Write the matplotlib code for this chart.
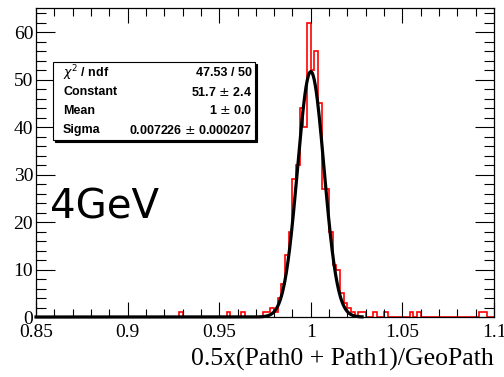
import numpy as np
import matplotlib.pyplot as plt
from matplotlib.patches import Rectangle

# histogram: 125 bins of 0.002 from 0.85 to 1.1, only non-empty bins listed
x_lo = 0.85
x_hi = 1.1
n_bins = 125
bin_index = [39, 52, 56, 62, 63, 64, 65, 66, 67, 68, 69, 70, 71, 72, 73, 74, 75, 76,
             77, 78, 79, 80, 81, 82, 83, 84, 85, 86, 88, 89, 92, 95, 102, 104, 121, 122]
bin_count = [1, 1, 1, 1, 1, 2, 1, 4, 7, 13, 18, 29, 32, 44, 40, 62, 52, 56,
             45, 27, 27, 18, 11, 10, 5, 3, 2, 1, 1, 1, 1, 1, 1, 1, 1, 1]

# gaussian fit result
fit_const = 51.7
fit_mean = 1.0
fit_sigma = 0.007226
fit_end = 1.028

stat_names = ['$\\chi^2$ / ndf', 'Constant', 'Mean', 'Sigma']
stat_values = ['47.53 / 50', '51.7 $\\pm$ 2.4', '1 $\\pm$ 0.0', '0.007226 $\\pm$ 0.000207']

edges = np.linspace(x_lo, x_hi, n_bins + 1)
counts = np.zeros(n_bins)
counts[bin_index] = bin_count

fig = plt.figure(figsize=(5.04, 3.77), dpi=100)
ax = fig.add_axes([36/504, 1 - 317/377, (494 - 36)/504, (317 - 8)/377])

ax.stairs(counts, edges, color='red', lw=1.2, baseline=0)

xf = np.linspace(x_lo, fit_end, 600)
yf = fit_const * np.exp(-0.5 * ((xf - fit_mean) / fit_sigma) ** 2)
ax.plot(xf, yf, color='black', lw=2.3, clip_on=False, zorder=3)

ax.set_xlim(x_lo, x_hi)
ax.set_ylim(0, 1.05 * max(bin_count))

serif = 'Liberation Serif'
ax.set_xticks([0.85, 0.9, 0.95, 1.0, 1.05, 1.1])
ax.set_xticklabels(['0.85', '0.9', '0.95', '1', '1.05', '1.1'])
ax.set_xticks(np.arange(0.85, 1.1001, 0.01), minor=True)
ax.set_yticks(np.arange(0, 61, 10))
ax.set_yticks(np.arange(0, 65, 2), minor=True)
ax.tick_params(which='both', direction='in', top=True, right=True, width=0.8)
ax.tick_params(axis='x', which='major', length=11, pad=5)
ax.tick_params(axis='x', which='minor', length=6)
ax.tick_params(axis='y', which='major', length=14, pad=2)
ax.tick_params(axis='y', which='minor', length=7)
for lab in ax.get_xticklabels() + ax.get_yticklabels():
    lab.set_fontfamily(serif)
    lab.set_fontsize(14)
for s in ax.spines.values():
    s.set_linewidth(0.9)

ax.text(1.0, -(366 - 317) / 309, '0.5x(Path0 + Path1)/GeoPath', transform=ax.transAxes,
        ha='right', va='baseline', fontfamily=serif, fontsize=18.5)

ax.text(0.03, 0.32, '4GeV', transform=ax.transAxes, fontsize=29,
        fontfamily='DejaVu Sans', ha='left', va='baseline')

# stats box with shadow (pixel coordinates of the original)
bx0, bx1, by0, by1 = 53, 255, 62, 140
W, H = 504, 377
fig.add_artist(Rectangle((bx0 / W + 2 / W, 1 - by1 / H - 2 / H), (bx1 - bx0) / W, (by1 - by0) / H,
                         transform=fig.transFigure, facecolor='black', edgecolor='black', lw=0.8))
fig.add_artist(Rectangle((bx0 / W, 1 - by1 / H), (bx1 - bx0) / W, (by1 - by0) / H,
                         transform=fig.transFigure, facecolor='white', edgecolor='black', lw=0.8))
row_y = [73, 92, 111, 130]
for name, val, ry in zip(stat_names, stat_values, row_y):
    fig.text(63 / W, 1 - ry / H, name, ha='left', va='center', fontsize=9,
             fontfamily='Liberation Sans', fontweight='bold')
    fig.text(252 / W, 1 - ry / H, val, ha='right', va='center', fontsize=9,
             fontfamily='Liberation Sans', fontweight='bold')

fig.savefig('out.png', dpi=100)
